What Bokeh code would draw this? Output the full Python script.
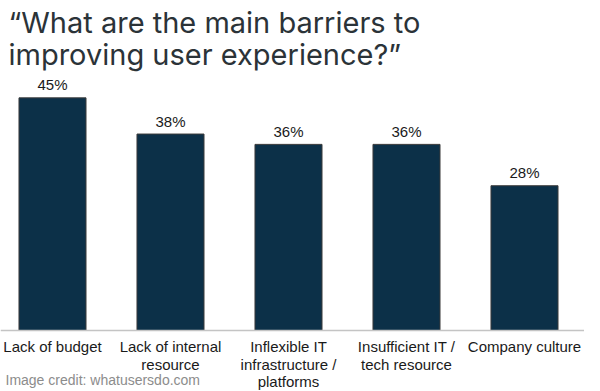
from bokeh.plotting import figure
from bokeh.models import Range1d, Label, Span, ColumnDataSource
from bokeh.core.properties import value
from bokeh.embed import file_html
from bokeh.resources import INLINE

categories = ["Lack of budget", "Lack of internal\nresource", "Inflexible IT\ninfrastructure /\nplatforms",
              "Insufficient IT /\ntech resource", "Company culture"]
percent = [45, 38, 36, 36, 28]
pct_labels = ["45%", "38%", "36%", "36%", "28%"]
title_lines = ["\u201cWhat are the main barriers to", "improving user experience?\u201d"]
credit = "Image credit: whatusersdo.com"

W, H = 584, 391
px_per_cat = 118.0
first_center = 52.0          # px of first category centre
baseline_px = 330.0          # px (from top) of the zero line
px_per_pct = 5.17

x_start = -first_center / px_per_cat
x_end = x_start + W / px_per_cat
y_end = baseline_px / px_per_pct
y_start = -(H - baseline_px) / px_per_pct

xs = list(range(len(categories)))
src = ColumnDataSource(dict(x=xs, top=percent, lab=pct_labels))

p = figure(width=W, height=H, output_backend="svg", toolbar_location=None,
           x_range=Range1d(x_start, x_end), y_range=Range1d(y_start, y_end),
           x_axis_location=None, y_axis_location=None,
           min_border_left=0, min_border_right=0, min_border_top=0, min_border_bottom=0)
p.outline_line_color = None
p.xgrid.visible = False
p.ygrid.visible = False
p.background_fill_color = "white"
p.border_fill_color = "white"

# zero line (category axis line)
p.add_layout(Span(location=0, dimension="width", line_color="#c4c4c4", line_width=1.5))

p.vbar(x="x", top="top", width=0.568, bottom=0, source=src, fill_color="#0c3048",
       line_color="#3a3a3a", line_width=1)
p.text(x="x", y="top", text="lab", source=src, text_align="center", text_baseline="alphabetic",
       y_offset=-13, text_font=value("Liberation Sans"), text_font_size="15px", text_color="#1a1a1a")

# category labels, one line at a time
lx, ltxt, loff = [], [], []
for i, c in zip(xs, categories):
    for k, line in enumerate(c.split("\n")):
        lx.append(i)
        ltxt.append(line)
        loff.append(16 + 17.6 * k)
lsrc = ColumnDataSource(dict(x=lx, y=[0] * len(lx), t=ltxt, off=loff))
p.text(x="x", y="y", text="t", y_offset="off", source=lsrc, text_align="center",
       text_baseline="alphabetic", text_font=value("Liberation Sans"), text_font_size="15px",
       text_color="#1a1a1a")

# title
for k, line in enumerate(title_lines):
    p.add_layout(Label(x=8, y=H - 22 - 32 * k, x_units="screen", y_units="screen", text=line,
                       text_baseline="alphabetic", text_font="Inter", text_font_size="29px",
                       text_color="#2b3338"))

p.add_layout(Label(x=5, y=12, x_units="screen", y_units="screen", text=credit,
                   text_baseline="alphabetic", text_font="Liberation Sans", text_font_size="14px",
                   text_color="#8c8c8c"))

open("out.html", "w").write(file_html(p, INLINE))
